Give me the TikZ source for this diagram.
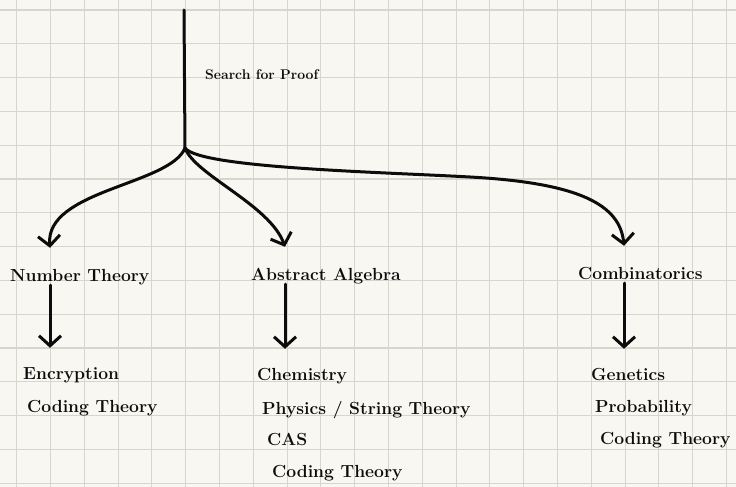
\documentclass[tikz,border=0pt]{standalone}
\usepackage{tikz}
\usetikzlibrary{arrows.meta,positioning,calc}
\definecolor{paper}{RGB}{249,247,241}
\definecolor{gridgray}{RGB}{216,213,206}
\definecolor{ink}{RGB}{12,12,12}

\begin{document}
\begin{tikzpicture}[
    x=1pt, y=-1pt,
    gridline/.style = {draw=gridgray, line width=1.1pt},
    arr/.style      = {-{Straight Barb[length=10pt, width=22pt, line width=3pt]},
                       draw=ink, line width=3pt, line cap=round, line join=round},
    topic/.style    = {anchor=base west, inner sep=0pt, text height=33pt,
                       text depth=4pt, font=\fontsize{17.5}{21}\selectfont\bfseries, text=ink},
    leaf/.style     = {anchor=base west, inner sep=0pt, text height=31pt,
                       text depth=5pt, font=\fontsize{17.5}{21}\selectfont\bfseries, text=ink}
  ]
    % paper and squares
    \fill[paper] (0,0) rectangle (736,487);
    \useasboundingbox (0,0) rectangle (736,487);
    \foreach \gx in {0,...,21}
      \draw[gridline] ({16.7+33.8*\gx},0) -- ++(0,487);
    \foreach \gy in {0,...,14}
      \draw[gridline] (0,{10+33.8*\gy}) -- ++(736,0);

    % stem
    \coordinate (top)  at (184,10);
    \coordinate (fork) at (185,148);
    \node[anchor=base west, inner sep=0pt, font=\fontsize{14}{17}\selectfont\bfseries, text=ink]
      (search) at (205,80) {Search for Proof};

    % branch columns
    \coordinate (ntcol) at (50,0);
    \coordinate (aacol) at (285,0);
    \coordinate (cbcol) at (624,0);

    % topics
    \node[topic] (numth)  at (10,281)  {Number Theory};
    \node[topic] (absalg) at (251,280) {Abstract Algebra};
    \node[topic] (comb)   at (578,279) {Combinatorics};

    % applications
    \node[leaf] (enc)    at (23,379)  {Encryption};
    \node[leaf] (ntcod)  at (27,412)  {Coding Theory};

    \node[leaf] (chem)   at (257,380) {Chemistry};
    \node[leaf] (phys)   at (262,414) {Physics / String Theory};
    \node[leaf] (cas)    at (267,445) {CAS};
    \node[leaf] (aacod)  at (272,477) {Coding Theory};

    \node[leaf] (gen)    at (591,380) {Genetics};
    \node[leaf] (prob)   at (595,412) {Probability};
    \node[leaf] (cbcod)  at (600,444) {Coding Theory};

    \draw[ink, line width=3pt, line cap=round] (top) -- (fork);
    \draw[arr] (fork) .. controls (170,185) and (45,190) .. (numth.north -| ntcol);
    \draw[arr] (fork) .. controls (195,175) and (270,205) .. (absalg.north -| aacol);
    \draw[arr] (fork) .. controls (200,168) and (380,172) .. (470,177)
                      .. controls (580,183) and (620,205) .. (comb.north -| cbcol);

    \draw[arr] (numth.south -| ntcol)  -- (enc.north -| ntcol);
    \draw[arr] (absalg.south -| aacol) -- (chem.north -| aacol);
    \draw[arr] (comb.south -| cbcol)   -- (gen.north -| cbcol);
  \end{tikzpicture}
\end{document}
